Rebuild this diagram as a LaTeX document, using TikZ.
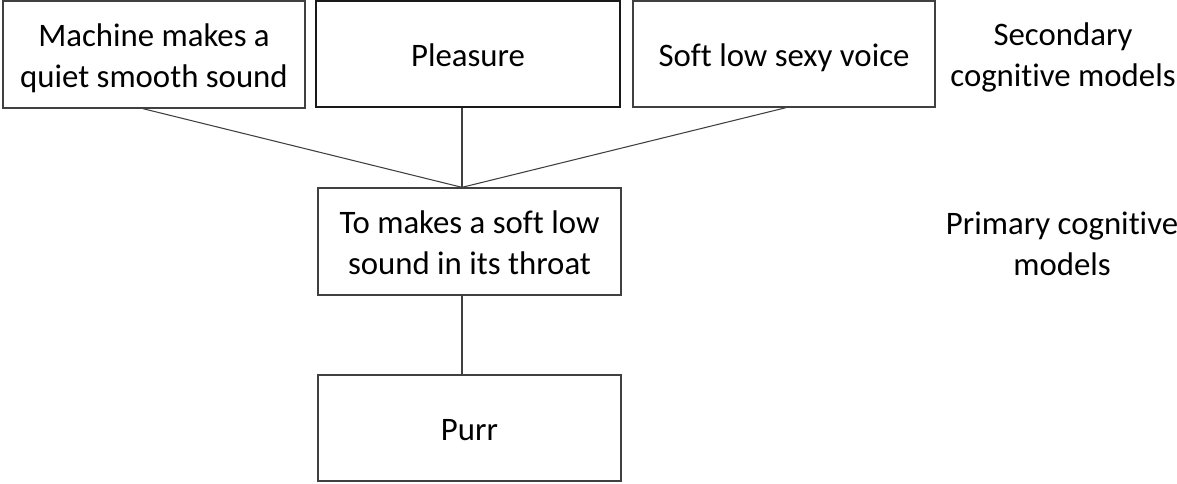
\documentclass[tikz,border=0pt]{standalone}
\usepackage{fontspec}
\setmainfont[Ligatures=NoCommon]{Carlito}
\definecolor{edge}{RGB}{64,64,64}
\newcommand\boxtext[1]{\raisebox{-3pt}[\height][\depth]{\begin{tabular}{@{}c@{}}#1\end{tabular}}}
\begin{document}
\begin{tikzpicture}[x=0.75pt,y=-0.75pt,
  box/.style={draw=edge,line width=1pt,rectangle,inner sep=0pt,
    font=\fontsize{24.6}{30.75}\selectfont},
  thickbox/.style={box,draw=black!90,line width=1.8pt},
  lbl/.style={align=center,inner sep=0pt,font=\fontsize{24.6}{30.75}\selectfont},
  conn/.style={draw=edge,line width=0.8pt}]
\useasboundingbox (0,0) rectangle (1177,483);
\node[box,minimum width=226.5pt,minimum height=80.25pt] (b1) at (154,54.5) {\boxtext{Machine makes a\\quiet smooth sound}};
\node[thickbox,minimum width=228pt,minimum height=79.5pt] (b2) at (468,54) {\boxtext{Pleasure}};
\node[box,minimum width=226.5pt,minimum height=79.5pt] (b3) at (784,54) {\boxtext{Soft low sexy voice}};
\node[box,minimum width=227.25pt,minimum height=80.25pt] (b4) at (469.5,241.5) {\boxtext{To makes a soft low\\sound in its throat}};
\node[box,minimum width=227.25pt,minimum height=79.5pt] (b5) at (469.5,428) {\boxtext{Purr}};
\node[lbl] (l1) at (1063,57) {Secondary\\cognitive models};
\node[lbl] (l2) at (1062,244) {Primary cognitive\\models};
\coordinate (j) at ([xshift=-5.625pt]b4.north);
\draw[conn] ([xshift=-8.25pt]b1.south) -- (j);
\draw[conn] ([xshift=-4.5pt]b2.south) -- (j);
\draw[conn] ([xshift=1.5pt]b3.south) -- (j);
\draw[conn] ([xshift=-5.625pt]b4.south) -- ([xshift=-5.625pt]b5.north);
\end{tikzpicture}
\end{document}
